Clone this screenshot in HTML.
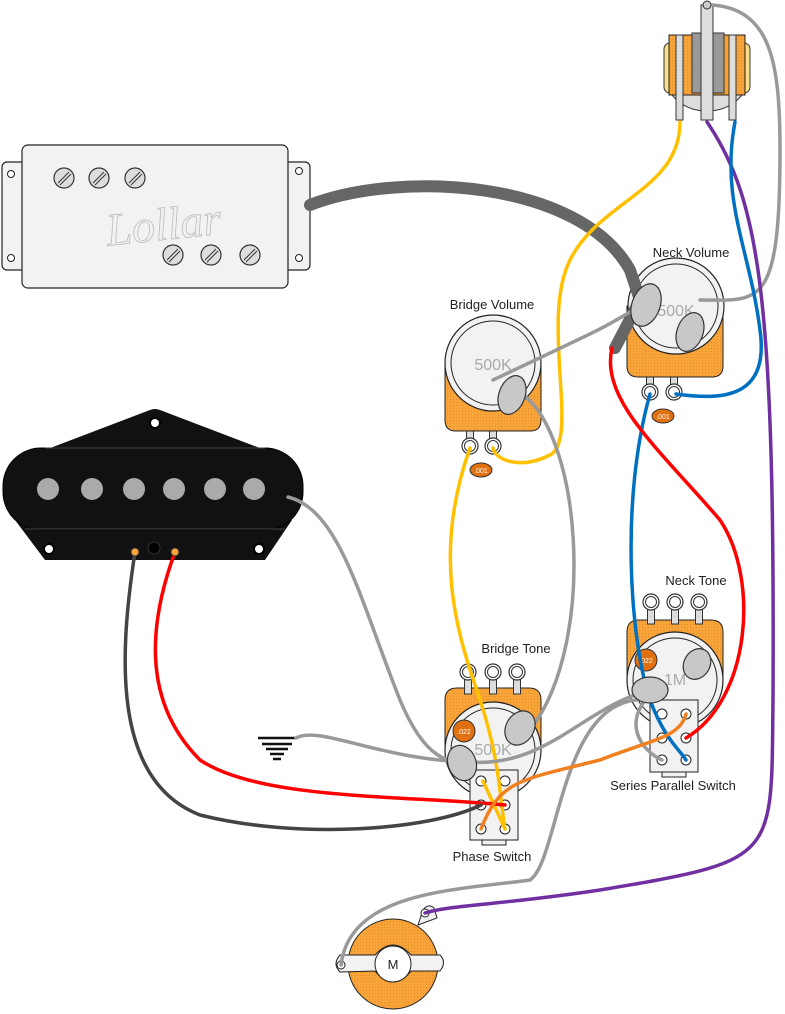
<!DOCTYPE html>
<html><head><meta charset="utf-8"><style>
html,body{margin:0;padding:0;background:#fff}
svg{display:block}
text{font-family:"Liberation Sans",sans-serif}
.lbl{font-size:13px;fill:#222}
</style></head><body>
<svg width="785" height="1014" viewBox="0 0 785 1014" xmlns="http://www.w3.org/2000/svg">
<defs>
<pattern id="or" width="3" height="3" patternUnits="userSpaceOnUse"><rect width="3" height="3" fill="#f7a43a"/><rect width="1" height="1" fill="#e88a1e"/></pattern>
<g id="screw"><circle r="10" fill="#ddd" stroke="#333" stroke-width="1.2"/><line x1="-6" y1="5" x2="5" y2="-6" stroke="#333" stroke-width="1"/><line x1="-4" y1="7" x2="7" y2="-4" stroke="#333" stroke-width="1"/></g>
</defs>

<!-- Humbucker -->
<rect x="2" y="162" width="30" height="108" rx="5" fill="#f2f2f2" stroke="#222" stroke-width="1.2"/>
<rect x="280" y="162" width="30" height="108" rx="5" fill="#f2f2f2" stroke="#222" stroke-width="1.2"/>
<circle cx="11" cy="174" r="3.5" fill="#fff" stroke="#222"/><circle cx="11" cy="258" r="3.5" fill="#fff" stroke="#222"/>
<circle cx="299" cy="171" r="3.5" fill="#fff" stroke="#222"/><circle cx="299" cy="258" r="3.5" fill="#fff" stroke="#222"/>
<rect x="22" y="145" width="266" height="143" rx="6" fill="#f2f2f2" stroke="#222" stroke-width="1.2"/>
<use href="#screw" x="64" y="178"/><use href="#screw" x="99" y="178"/><use href="#screw" x="135" y="178"/>
<use href="#screw" x="173" y="255"/><use href="#screw" x="211" y="255"/><use href="#screw" x="250" y="255"/>
<text x="105" y="240" style="font-family:'Liberation Serif',serif;font-style:italic;font-size:46px" fill="none" stroke="#bbb" stroke-width="0.8" transform="rotate(-6 160 215)">Lollar</text>

<!-- Tele pickup -->
<path d="M45 450 L150 410 Q155 408 160 410 L265 450 Z" fill="#111"/>
<path d="M15 520 L45 560 L265 560 L292 520 Z" fill="#111"/>
<rect x="3" y="448" width="300" height="82" rx="38" fill="#111" stroke="#000"/>
<line x1="45" y1="448" x2="265" y2="448" stroke="#444" stroke-width="1"/>
<line x1="25" y1="529" x2="285" y2="529" stroke="#444" stroke-width="1"/>
<circle cx="155" cy="423" r="5" fill="#fff" stroke="#000" stroke-width="2"/>
<circle cx="49" cy="549" r="5" fill="#fff" stroke="#000" stroke-width="2"/>
<circle cx="259" cy="549" r="5" fill="#fff" stroke="#000" stroke-width="2"/>
<circle cx="154" cy="548" r="6" fill="#000" stroke="#333"/>
<g fill="#aaa"><circle cx="48" cy="489" r="11"/><circle cx="92" cy="489" r="11"/><circle cx="134" cy="489" r="11"/><circle cx="174" cy="489" r="11"/><circle cx="215" cy="489" r="11"/><circle cx="254" cy="489" r="11"/></g>

<!-- Output jack top -->
<ellipse cx="707" cy="75" rx="42" ry="36" fill="#ddd" stroke="#333"/>
<rect x="664" y="43" width="20" height="50" rx="6" fill="#fbe08a" stroke="#333"/>
<rect x="730" y="43" width="20" height="50" rx="6" fill="#fbe08a" stroke="#333"/>
<rect x="669" y="35" width="76" height="60" fill="url(#or)" stroke="#222"/>
<rect x="692" y="33" width="32" height="60" fill="#999" stroke="#333"/>
<rect x="676" y="35" width="7" height="85" fill="#ddd" stroke="#333"/>
<rect x="701" y="5" width="12" height="115" fill="#ddd" stroke="#333"/>
<rect x="729" y="35" width="7" height="85" fill="#ddd" stroke="#333"/>
<circle cx="707" cy="5" r="4" fill="#ccc" stroke="#333"/>

<!-- Bridge Volume -->
<g transform="translate(470,446)"><rect x="-3.5" y="-22" width="7" height="22" fill="#ddd" stroke="#333"/><circle r="8" fill="#fff" stroke="#333" stroke-width="1.2"/><circle r="5.5" fill="#fff" stroke="#333"/></g>
<g transform="translate(493,446)"><rect x="-3.5" y="-22" width="7" height="22" fill="#ddd" stroke="#333"/><circle r="8" fill="#fff" stroke="#333" stroke-width="1.2"/><circle r="5.5" fill="#fff" stroke="#333"/></g>
<path d="M445 363 L541 363 L541 420 Q541 431 530 431 L456 431 Q445 431 445 420 Z" fill="url(#or)" stroke="#222"/>
<circle cx="493" cy="363" r="48" fill="#f2f2f2" stroke="#222" stroke-width="1.2"/>
<circle cx="493" cy="363" r="42" fill="#f2f2f2" stroke="#222"/>
<text x="493" y="370" font-size="16" fill="#aaa" text-anchor="middle">500K</text>
<ellipse cx="481" cy="470" rx="11" ry="7" fill="#e07010" stroke="#333"/><text x="481" y="473" font-size="7" fill="#fff" text-anchor="middle">.001</text>
<text x="492" y="309" class="lbl" text-anchor="middle">Bridge Volume</text>

<!-- Neck Volume -->
<g transform="translate(650,392)"><rect x="-3.5" y="-22" width="7" height="22" fill="#ddd" stroke="#333"/><circle r="8" fill="#fff" stroke="#333" stroke-width="1.2"/><circle r="5.5" fill="#fff" stroke="#333"/></g>
<g transform="translate(674,392)"><rect x="-3.5" y="-22" width="7" height="22" fill="#ddd" stroke="#333"/><circle r="8" fill="#fff" stroke="#333" stroke-width="1.2"/><circle r="5.5" fill="#fff" stroke="#333"/></g>
<path d="M627 306 L723 306 L723 366 Q723 377 712 377 L638 377 Q627 377 627 366 Z" fill="url(#or)" stroke="#222"/>
<circle cx="676" cy="306" r="48" fill="#f2f2f2" stroke="#222" stroke-width="1.2"/>
<circle cx="676" cy="306" r="42" fill="#f2f2f2" stroke="#222"/>
<text x="676" y="316" font-size="16" fill="#aaa" text-anchor="middle">500K</text>
<ellipse cx="663" cy="416" rx="11" ry="7" fill="#e07010" stroke="#333"/><text x="663" y="419" font-size="7" fill="#fff" text-anchor="middle">.001</text>
<text x="691" y="257" class="lbl" text-anchor="middle">Neck Volume</text>

<!-- Bridge Tone -->
<path d="M445 700 Q445 688 457 688 L529 688 Q541 688 541 700 L541 747 L445 747 Z" fill="url(#or)" stroke="#222"/>
<g transform="translate(468,672)"><rect x="-3.5" y="0" width="7" height="22" fill="#ddd" stroke="#333"/><circle r="8" fill="#fff" stroke="#333" stroke-width="1.2"/><circle r="5.5" fill="#fff" stroke="#333"/></g>
<g transform="translate(493,672)"><rect x="-3.5" y="0" width="7" height="22" fill="#ddd" stroke="#333"/><circle r="8" fill="#fff" stroke="#333" stroke-width="1.2"/><circle r="5.5" fill="#fff" stroke="#333"/></g>
<g transform="translate(517,672)"><rect x="-3.5" y="0" width="7" height="22" fill="#ddd" stroke="#333"/><circle r="8" fill="#fff" stroke="#333" stroke-width="1.2"/><circle r="5.5" fill="#fff" stroke="#333"/></g>
<circle cx="493" cy="750" r="48" fill="#f2f2f2" stroke="#222" stroke-width="1.2"/>
<circle cx="493" cy="750" r="42" fill="#f2f2f2" stroke="#222"/>
<text x="493" y="755" font-size="16" fill="#aaa" text-anchor="middle">500K</text>
<circle cx="464" cy="731" r="11" fill="#e07010" stroke="#333"/><text x="464" y="734" font-size="7" fill="#fff" text-anchor="middle">.022</text>
<text x="516" y="653" class="lbl" text-anchor="middle">Bridge Tone</text>

<!-- Neck Tone -->
<path d="M627 632 Q627 620 639 620 L711 620 Q723 620 723 632 L723 680 L627 680 Z" fill="url(#or)" stroke="#222"/>
<g transform="translate(651,602)"><rect x="-3.5" y="0" width="7" height="22" fill="#ddd" stroke="#333"/><circle r="8" fill="#fff" stroke="#333" stroke-width="1.2"/><circle r="5.5" fill="#fff" stroke="#333"/></g>
<g transform="translate(675,602)"><rect x="-3.5" y="0" width="7" height="22" fill="#ddd" stroke="#333"/><circle r="8" fill="#fff" stroke="#333" stroke-width="1.2"/><circle r="5.5" fill="#fff" stroke="#333"/></g>
<g transform="translate(699,602)"><rect x="-3.5" y="0" width="7" height="22" fill="#ddd" stroke="#333"/><circle r="8" fill="#fff" stroke="#333" stroke-width="1.2"/><circle r="5.5" fill="#fff" stroke="#333"/></g>
<circle cx="675" cy="680" r="48" fill="#f2f2f2" stroke="#222" stroke-width="1.2"/>
<circle cx="675" cy="680" r="42" fill="#f2f2f2" stroke="#222"/>
<text x="675" y="685" font-size="16" fill="#aaa" text-anchor="middle">1M</text>
<circle cx="646" cy="660" r="11" fill="#e07010" stroke="#333"/><text x="646" y="663" font-size="7" fill="#fff" text-anchor="middle">.022</text>
<text x="696" y="585" class="lbl" text-anchor="middle">Neck Tone</text>

<!-- Switches -->
<rect x="470" y="770" width="48" height="70" fill="#f2f2f2" stroke="#222"/>
<rect x="482" y="840" width="24" height="5" fill="#f2f2f2" stroke="#222"/>
<g fill="#fff" stroke="#222"><circle cx="481" cy="781" r="5"/><circle cx="505" cy="781" r="5"/><circle cx="481" cy="805" r="5"/><circle cx="505" cy="805" r="5"/><circle cx="481" cy="829" r="5"/><circle cx="505" cy="829" r="5"/></g>
<text x="492" y="861" class="lbl" text-anchor="middle">Phase Switch</text>
<rect x="650" y="700" width="48" height="72" fill="#f2f2f2" stroke="#222"/>
<rect x="662" y="772" width="24" height="5" fill="#f2f2f2" stroke="#222"/>
<g fill="#fff" stroke="#222"><circle cx="662" cy="714" r="5"/><circle cx="686" cy="714" r="5"/><circle cx="662" cy="738" r="5"/><circle cx="686" cy="738" r="5"/><circle cx="662" cy="760" r="5"/><circle cx="686" cy="760" r="5"/></g>
<text x="673" y="790" class="lbl" text-anchor="middle">Series Parallel Switch</text>

<!-- Jack bottom -->
<path d="M418 925 L423 910 Q428 903 434 908 L437 918 Z" fill="#f2f2f2" stroke="#222"/>
<circle cx="425" cy="913" r="4" fill="#fff" stroke="#222"/>
<circle cx="393" cy="964" r="45" fill="url(#or)" stroke="#222"/>
<path d="M340 955 L375 955 Q393 935 411 955 L440 955 Q447 962 440 971 L411 971 Q393 993 375 971 L340 972 Q332 964 340 955 Z" fill="#f2f2f2" stroke="#222"/>
<circle cx="393" cy="964" r="18" fill="#fff" stroke="#222"/>
<text x="393" y="969" font-size="13" fill="#222" text-anchor="middle">M</text>
<circle cx="341" cy="965" r="4" fill="#fff" stroke="#222"/>

<!-- Ground -->
<g stroke="#111" stroke-width="2.5"><line x1="258" y1="738" x2="296" y2="738"/><line x1="262" y1="744" x2="292" y2="744"/><line x1="266" y1="749" x2="288" y2="749"/><line x1="270" y1="754" x2="284" y2="754"/><line x1="273" y1="759" x2="281" y2="759"/></g>

<!-- Wires -->
<g fill="none" stroke-linecap="round">
<path d="M310 205 C400 170 580 180 630 270 L640 300 L615 348" stroke="#666" stroke-width="12"/>
<path d="M713 5 C770 10 780 60 780 150 C780 310 760 300 700 300" stroke="#999" stroke-width="3.5"/>
<path d="M680 122 C680 190 600 200 570 260 C540 320 580 440 550 455 C520 470 495 460 493 448" stroke="#ffc000" stroke-width="3.5"/>
<path d="M470 448 C430 560 460 640 480 700 C500 760 500 800 505 829" stroke="#ffc000" stroke-width="3.5"/>
<path d="M483 781 L505 829" stroke="#ffc000" stroke-width="3.5"/>
<path d="M707 122 C760 200 775 300 773 700 C771 860 780 860 600 890 C500 905 450 905 425 913" stroke="#7030a0" stroke-width="3.5"/>
<path d="M735 122 C720 200 750 250 760 330 C770 400 720 400 676 394" stroke="#0070c0" stroke-width="3.5"/>
<path d="M650 394 C620 500 630 640 650 700 C665 740 680 750 686 760" stroke="#0070c0" stroke-width="3.5"/>
<path d="M612 348 C600 400 660 450 720 520 C760 580 750 700 686 738" stroke="#ff0000" stroke-width="3.5"/>
<path d="M175 552 C150 620 140 700 200 760 C260 800 400 795 505 805" stroke="#ff0000" stroke-width="3.5"/>
<path d="M135 552 C120 650 110 780 200 815 C300 840 430 830 481 805" stroke="#444" stroke-width="3.5"/>
<path d="M288 497 C340 510 360 600 400 700 C425 760 450 765 470 760" stroke="#999" stroke-width="3.5"/>
<path d="M493 380 C620 320 600 330 650 300" stroke="#999" stroke-width="3.5"/>
<path d="M515 390 C580 420 600 640 530 730" stroke="#999" stroke-width="3.5"/>
<path d="M296 738 C320 725 380 760 470 762 C550 768 590 700 655 690" stroke="#999" stroke-width="3.5"/>
<path d="M655 690 C620 720 640 750 662 760" stroke="#999" stroke-width="3.5"/>
<path d="M650 700 C560 690 560 860 530 880 C460 890 350 890 341 965" stroke="#999" stroke-width="3.5"/>
<path d="M481 829 C500 780 520 780 600 760 C650 740 680 738 686 714" stroke="#f08020" stroke-width="3.5"/>
</g>

<g fill="#c8c8c8" stroke="#333" stroke-width="1.2">
<ellipse cx="512" cy="395" rx="13" ry="20" transform="rotate(20 512 395)"/>
<ellipse cx="646" cy="305" rx="14" ry="22" transform="rotate(20 646 305)"/>
<ellipse cx="690" cy="332" rx="13" ry="20" transform="rotate(20 690 332)"/>
<ellipse cx="520" cy="728" rx="14" ry="18" transform="rotate(30 520 728)"/>
<ellipse cx="462" cy="763" rx="14" ry="18" transform="rotate(-20 462 763)"/>
<ellipse cx="697" cy="664" rx="13" ry="16" transform="rotate(30 697 664)"/>
<ellipse cx="650" cy="690" rx="18" ry="13"/>
</g>
<circle cx="135" cy="552" r="4" fill="#f7a43a" stroke="#333"/>
<circle cx="175" cy="552" r="4" fill="#f7a43a" stroke="#333"/>
</svg>
</body></html>
